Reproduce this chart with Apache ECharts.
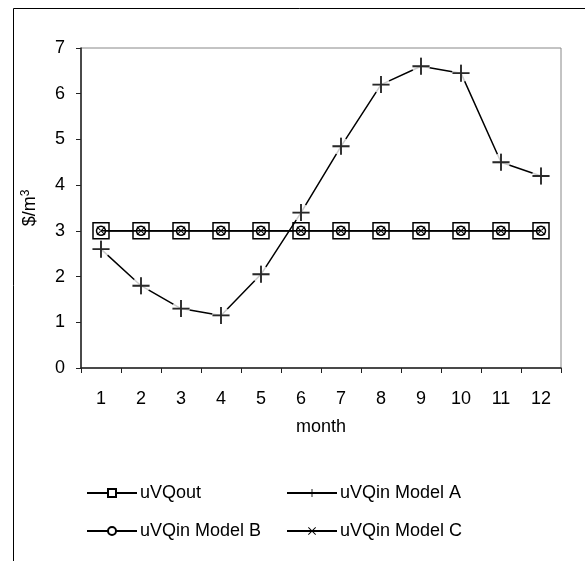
<!DOCTYPE html>
<html><head><meta charset="utf-8">
<script src="https://cdn.jsdelivr.net/npm/echarts@6/dist/echarts.min.js"></script>
<style>html,body{margin:0;padding:0;background:#fff}#c{width:585px;height:561px}</style>
</head><body><div id="c"></div>
<script>
var months = ['1','2','3','4','5','6','7','8','9','10','11','12'];
var uVQout = [3,3,3,3,3,3,3,3,3,3,3,3];
var modelA = [2.6,1.8,1.3,1.15,2.05,3.4,4.85,6.2,6.6,6.45,4.5,4.2];
var modelB = [3,3,3,3,3,3,3,3,3,3,3,3];
var modelC = [3,3,3,3,3,3,3,3,3,3,3,3];
var seriesNames = ['uVQout','uVQin Model A','uVQin Model B','uVQin Model C'];
var yTicks = [0,1,2,3,4,5,6,7];

var FONT = 'Liberation Sans, Arial, sans-serif';
var plusPath = 'path://M0,4.45H10V5.55H0Z M4.45,0H5.55V10H4.45Z';
var xPath = 'path://M0,0.8L0.8,0L10,9.2L9.2,10Z M10,0.8L9.2,0L0,9.2L0.8,10Z';

var chart = echarts.init(document.getElementById('c'), null, {renderer:'canvas'});
function legend(name, left, top){
  return {data:[name], left:left, top:top, padding:0, itemWidth:50, itemHeight:10, itemGap:0,
    textStyle:{fontFamily:FONT, fontSize:18, color:'#000', padding:[0,0,0,-2]}};
}
chart.setOption({
  animation:false,
  backgroundColor:'#fff',
  graphic:[{type:'rect', shape:{x:13.5,y:8.5,width:700,height:700}, style:{fill:'none', stroke:'#000', lineWidth:1}, z:100}],
  grid:{left:81, top:48, right:24, bottom:193, show:true, borderColor:'#888', borderWidth:1, backgroundColor:'#fff'},
  legend:[legend(seriesNames[0],86,484), legend(seriesNames[1],286,484), legend(seriesNames[2],86,522), legend(seriesNames[3],286,522)],
  xAxis:{type:'category', data:months, boundaryGap:true,
    name:'month', nameLocation:'middle', nameGap:50, nameTextStyle:{fontFamily:FONT, fontSize:18, color:'#000'},
    axisLine:{lineStyle:{color:'#222', width:1.5}}, axisTick:{show:true, length:5, alignWithLabel:false, lineStyle:{color:'#222'}},
    axisLabel:{fontFamily:FONT, fontSize:18, color:'#000', margin:22}, splitLine:{show:false}},
  yAxis:{type:'value', min:yTicks[0], max:yTicks[yTicks.length-1], interval:1,
    name:'{a|$/m}{s|3}', nameLocation:'middle', nameRotate:90, nameGap:41,
    nameTextStyle:{rich:{a:{fontFamily:FONT, fontSize:18, color:'#000'}, s:{fontFamily:FONT, fontSize:12, color:'#000', verticalAlign:'top', padding:[0,0,8,0]}}},
    axisLine:{show:true, lineStyle:{color:'#222', width:1.5}}, axisTick:{show:true, length:5, lineStyle:{color:'#222'}},
    axisLabel:{fontFamily:FONT, fontSize:18, color:'#000', margin:16}, splitLine:{show:false}},
  series:[
    {name:seriesNames[0], type:'line', data:uVQout, symbol:'rect', symbolSize:16, z:2,
      lineStyle:{color:'#000', width:1.5}, itemStyle:{color:'#fff', borderColor:'#000', borderWidth:1.5}},
    {name:seriesNames[2], type:'line', data:modelB, symbol:'circle', symbolSize:9, z:3,
      lineStyle:{color:'#000', width:1.5}, itemStyle:{color:'#fff', borderColor:'#000', borderWidth:1.5}},
    {name:seriesNames[3], type:'line', data:modelC, symbol:xPath, symbolSize:9, z:4,
      lineStyle:{color:'#000', width:1.5}, itemStyle:{color:'#000'}},
    {name:seriesNames[1], type:'line', data:modelA, symbol:plusPath, symbolSize:17, z:5,
      lineStyle:{color:'#000', width:1.5}, itemStyle:{color:'#000'}},
    {name:'gapA', type:'scatter', data:modelA, symbol:'circle', symbolSize:18, z:6, silent:true,
      itemStyle:{color:'#fff'}},
    {name:'markA', type:'scatter', data:modelA, symbol:plusPath, symbolSize:17, z:7, silent:true,
      itemStyle:{color:'#000'}}
  ]
});
</script></body></html>
